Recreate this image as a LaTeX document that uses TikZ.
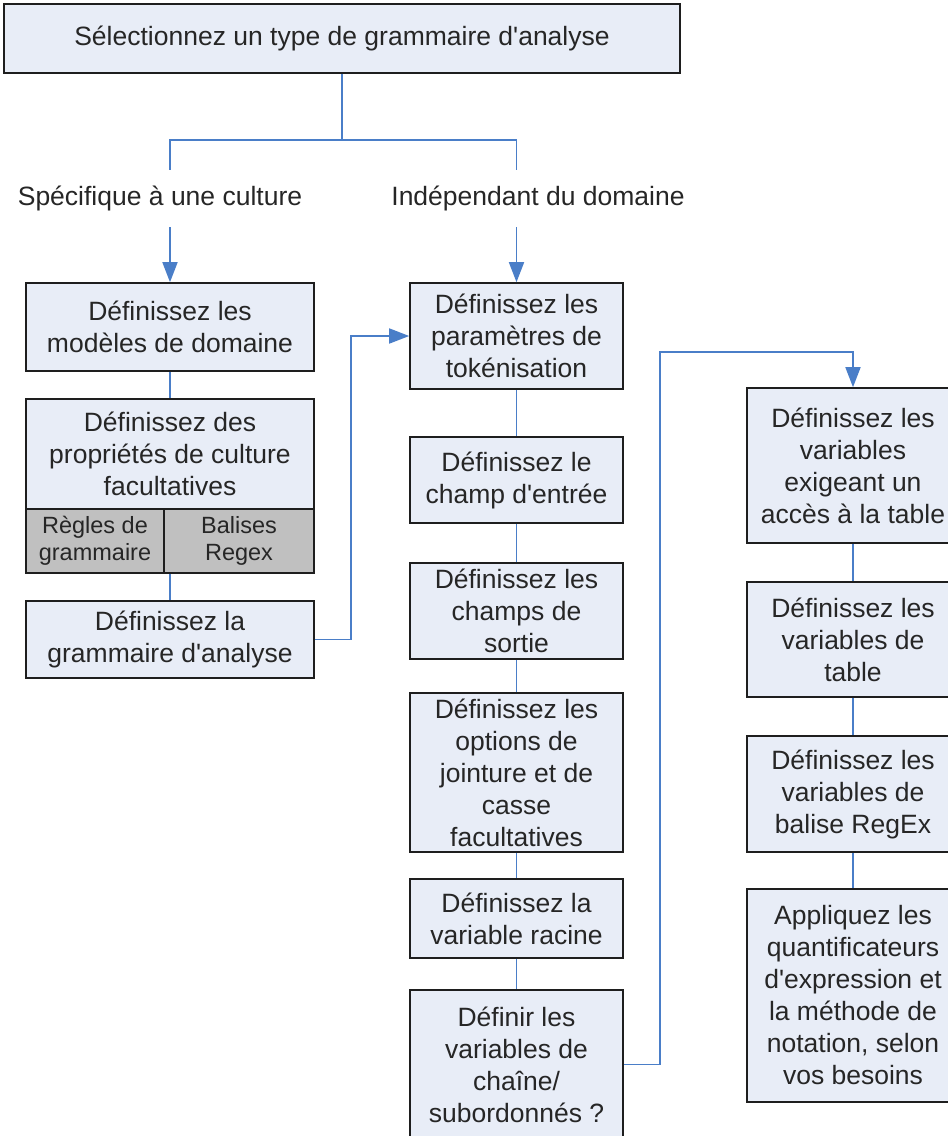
\documentclass[tikz,border=0pt]{standalone}
\usepackage{fontspec}
\setmainfont{Liberation Sans}
\usepackage{xcolor}
\usetikzlibrary{arrows.meta, calc}

\definecolor{boxfill}{HTML}{E8EDF7}
\definecolor{subfill}{HTML}{C0C0C0}
\definecolor{edge}{HTML}{1E1E1E}
\definecolor{linkblue}{HTML}{4A7EC8}
\definecolor{txt}{HTML}{262626}

\tikzset{
	box/.style={draw=edge, line width=1.6pt, fill=boxfill, align=center, inner sep=0pt, text=txt, font=\fontsize{26.5}{32}\selectfont},
	subbox/.style={box, fill=subfill, font=\fontsize{23.5}{27}\selectfont},
	lbl/.style={inner sep=0pt, text=txt, font=\fontsize{26.5}{32}\selectfont},
	link/.style={draw=linkblue, line width=1.7pt},
	arr/.style={link, -{Triangle[length=20pt,width=15pt]}},
}

\begin{document}
\begin{tikzpicture}[x=1pt, y=-1pt]
	\useasboundingbox (0,0) rectangle (948,1136);
	\clip (0,0) rectangle (948,1136);
	\fill[white] (0,0) rectangle (948,1136);
	% top
	\node[box, minimum width=676, minimum height=69] (top) at (342,38.5) {Sélectionnez un type de grammaire d\textquotesingle analyse};
	\node[lbl, minimum height=57] (lspec) at (160,198.5) {Spécifique à une culture};
	\node[lbl, minimum height=57] (lindep) at (538,198.5) {Indépendant du domaine};
	% left column
	\node[box, minimum width=288, minimum height=88] (A) at (170,327) {Définissez les\\modèles de domaine};
	\node[box, minimum width=288, minimum height=110] (B) at (170,454) {Définissez des\\propriétés de culture\\facultatives};
	\node[subbox, minimum width=138, minimum height=64] (Bl) at (95,541) {Règles de\\grammaire};
	\node[subbox, minimum width=150, minimum height=64] (Br) at (239,541) {Balises\\Regex};
	\node[box, minimum width=288, minimum height=77] (C) at (170,639.5) {Définissez la\\grammaire d\textquotesingle analyse};
	% middle column
	\node[box, minimum width=213, minimum height=106] (D) at (516.5,336) {Définissez les\\paramètres de\\tokénisation};
	\node[box, minimum width=213, minimum height=86] (E) at (516.5,480) {Définissez le\\champ d\textquotesingle entrée};
	\node[box, minimum width=213, minimum height=96] (F) at (516.5,611) {Définissez les\\champs de\\sortie};
	\node[box, minimum width=213, minimum height=159] (G) at (516.5,772.5) {Définissez les\\options de\\jointure et de\\casse\\facultatives};
	\node[box, minimum width=213, minimum height=79] (H) at (516.5,918.5) {Définissez la\\variable racine};
	\node[box, minimum width=213, minimum height=149] (I) at (516.5,1064.5) {Définir les\\variables de\\chaîne/\\subordonnés ?};
	% right column
	\node[box, minimum width=212, minimum height=155] (J) at (853,465.5) {Définissez les\\variables\\exigeant un\\accès à la table};
	\node[box, minimum width=212, minimum height=115] (K) at (853,639.5) {Définissez les\\variables de\\table};
	\node[box, minimum width=212, minimum height=116] (L) at (853,794) {Définissez les\\variables de\\balise RegEx};
	\node[box, minimum width=212, minimum height=213] (M) at (853,995.5) {Appliquez les\\quantificateurs\\d\textquotesingle expression et\\la méthode de\\notation, selon\\vos besoins};

	\draw[link] (top.south) -- ++(0,66) coordinate (fork);
	\draw[link] (A.north |- lspec.north) |- (fork) -| (D.north |- lindep.north);
	\draw[arr] (A.north |- lspec.south) -- (A.north);
	\draw[arr] (D.north |- lindep.south) -- (D.north);

	\draw[link] (A.south) -- (B.north);
	\draw[link] (Br.south -| C.north) -- (C.north);
	\draw[arr] (C.east) -- ++(36,0) |- (D.west);

	\draw[link] (D.south) -- (E.north);
	\draw[link] (E.south) -- (F.north);
	\draw[link] (F.south) -- (G.north);
	\draw[link] (G.south) -- (H.north);
	\draw[link] (H.south) -- (I.north);
	\draw[arr] (I.east) -- ++(36,0) |- ($(J.north)+(0,-35)$) -- (J.north);

	\draw[link] (J.south) -- (K.north);
	\draw[link] (K.south) -- (L.north);
	\draw[link] (L.south) -- (M.north);
\end{tikzpicture}
\end{document}
